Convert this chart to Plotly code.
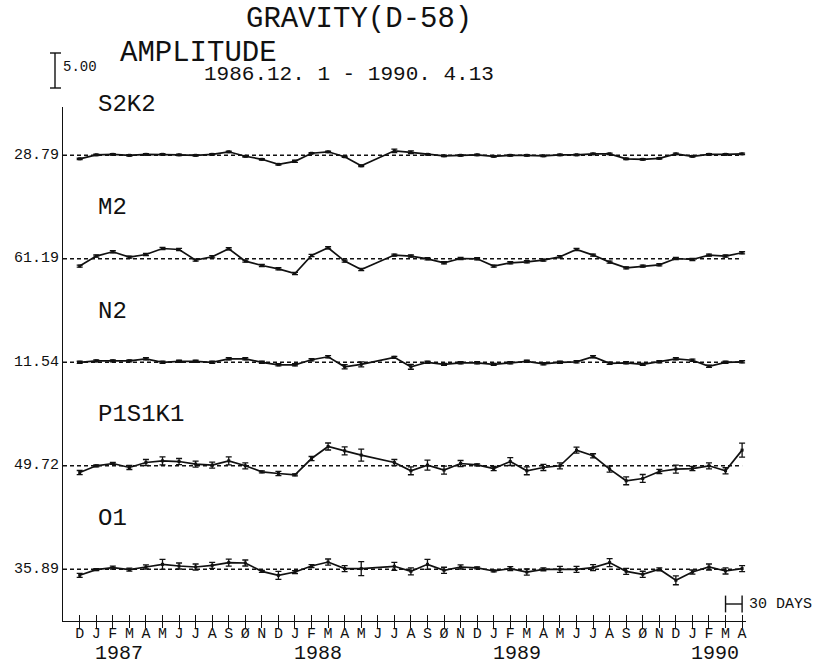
import plotly.graph_objects as go

# ---------------- data ----------------
MONTHS = [0, 1, 2, 3, 4, 5, 6, 7, 8, 9, 10, 11, 12, 13, 14, 15, 16, 17,
          19, 20, 21, 22, 23, 24, 25, 26, 27, 28, 29, 30, 31, 32, 33, 34, 35, 36, 37, 38, 39, 40]
TICK_MONTHS = list(range(41))
TICK_TEXT = ["D", "J", "F", "M", "A", "M", "J", "J", "A", "S", "Ø", "N",
             "D", "J", "F", "M", "A", "M", "J", "J", "A", "S", "Ø", "N",
             "D", "J", "F", "M", "A", "M", "J", "J", "A", "S", "Ø", "N",
             "D", "J", "F", "M", "A"]
YEAR_LABELS = ["1987", "1988", "1989", "1990"]
YEAR_MONTHS = [1, 13, 25, 37]

NAMES = ["S2K2", "M2", "N2", "P1S1K1", "O1"]
MEANS = [28.79, 61.19, 11.54, 49.72, 35.89]

S2K2 = [28.29, 28.86, 28.93, 28.79, 28.93, 28.93, 28.86, 28.79, 28.93, 29.29, 28.65, 28.22,
        27.50, 27.93, 29.08, 29.29, 28.58, 27.29, 29.43, 29.22, 28.93, 28.72, 28.79, 28.86,
        28.65, 28.79, 28.79, 28.72, 28.86, 28.86, 29.00, 29.00, 28.29, 28.22, 28.36, 29.00,
        28.65, 28.93, 28.93, 29.00]
S2K2_ERR = [0.1] * 13 + [0.15] + [0.1] * 4 + [0.25, 0.2] + [0.1] * 20

M2 = [60.15, 61.58, 62.19, 61.43, 61.80, 62.66, 62.52, 61.00, 61.48, 62.62, 60.86, 60.23,
      59.76, 59.09, 61.66, 62.76, 60.86, 59.66, 61.72, 61.58, 61.19, 60.62, 61.23, 61.19,
      60.15, 60.62, 60.76, 61.00, 61.48, 62.52, 61.72, 60.72, 59.90, 60.15, 60.33, 61.23,
      61.09, 61.72, 61.58, 62.05]
M2_ERR = [0.15] * 40

N2 = [11.54, 11.75, 11.75, 11.75, 12.04, 11.54, 11.68, 11.68, 11.54, 12.04, 12.04, 11.54,
      11.18, 11.18, 11.90, 12.33, 10.90, 11.25, 12.25, 10.90, 11.54, 11.25, 11.47, 11.47,
      11.25, 11.47, 11.68, 11.33, 11.54, 11.61, 12.33, 11.40, 11.47, 11.25, 11.61, 12.04,
      11.83, 10.97, 11.54, 11.61]
N2_ERR = [0.15] * 16 + [0.3, 0.35, 0.15, 0.35] + [0.15] * 20

P1S1K1 = [48.76, 49.72, 50.05, 49.48, 50.19, 50.43, 50.33, 49.96, 49.82, 50.43, 49.72, 48.86,
          48.62, 48.43, 50.76, 52.48, 51.86, 51.25, 50.19, 49.01, 49.82, 49.11, 50.05, 49.86,
          49.33, 50.33, 49.01, 49.48, 49.72, 51.96, 51.15, 49.25, 47.58, 47.91, 48.91, 49.25,
          49.33, 49.72, 49.01, 51.96]
P1S1K1_ERR = [0.29, 0.14, 0.14, 0.29, 0.43, 0.57, 0.43, 0.43, 0.43, 0.57, 0.43, 0.14,
              0.29, 0.14, 0.29, 0.50, 0.57, 0.86, 0.43, 0.57, 0.71, 0.57, 0.43, 0.14,
              0.29, 0.57, 0.57, 0.43, 0.43, 0.43, 0.29, 0.43, 0.57, 0.57, 0.29, 0.57,
              0.29, 0.43, 0.43, 1.00]

O1 = [35.03, 35.85, 36.13, 35.85, 36.22, 36.60, 36.36, 36.22, 36.46, 36.85, 36.79, 35.60,
      35.03, 35.50, 36.36, 36.93, 35.99, 35.99, 36.32, 35.60, 36.60, 35.75, 36.22, 36.08,
      35.65, 35.99, 35.50, 35.89, 35.89, 35.89, 36.13, 36.85, 35.60, 35.18, 35.89, 34.32,
      35.50, 36.22, 35.65, 35.99]
O1_ERR = [0.29, 0.14, 0.21, 0.21, 0.29, 0.71, 0.43, 0.43, 0.43, 0.50, 0.43, 0.14,
          0.57, 0.21, 0.21, 0.43, 0.43, 1.00, 0.57, 0.50, 0.71, 0.43, 0.29, 0.14,
          0.14, 0.29, 0.43, 0.21, 0.43, 0.43, 0.43, 0.57, 0.43, 0.43, 0.21, 0.64,
          0.29, 0.43, 0.43, 0.43]

SERIES = [S2K2, M2, N2, P1S1K1, O1]
ERRORS = [S2K2_ERR, M2_ERR, N2_ERR, P1S1K1_ERR, O1_ERR]
SCALE_AMPLITUDE = 5.00
SCALE_DAYS_MONTHS = [39, 40]

# ---------------- layout geometry (pixels) ----------------
W, H = 820, 671
PX_PER_UNIT = 7.0
AX_LEFT, AX_RIGHT, AX_BOTTOM, AX_TOP = 63, 746, 621, 107
TICK0_PX, MONTH_PX = 79.7, 16.56
ROW_BASE_PX = [155.3, 258.8, 362.3, 465.8, 569.3]
FONT = "Liberation Mono"
INK = "#111111"


def pxx(p):
    return p / W


def pxy(p):
    return 1 - p / H


def row_y(base_px):
    return (AX_BOTTOM - base_px) / PX_PER_UNIT


x_range = [(AX_LEFT - TICK0_PX) / MONTH_PX, (AX_RIGHT - TICK0_PX) / MONTH_PX]
y_range = [0, (AX_BOTTOM - AX_TOP) / PX_PER_UNIT]

fig = go.Figure()
annotations = []

for name, mean, vals, errs, base in zip(NAMES, MEANS, SERIES, ERRORS, ROW_BASE_PX):
    y0 = row_y(base)
    # dashed mean line
    fig.add_trace(go.Scatter(
        x=[x_range[0], TICK_MONTHS[-1]], y=[y0 + (mean - mean)] * 2,
        mode="lines", line=dict(color=INK, width=1.4, dash="4px,3px"),
        hoverinfo="skip", showlegend=False))
    # series
    fig.add_trace(go.Scatter(
        x=MONTHS, y=[y0 + (v - mean) for v in vals],
        mode="lines+markers",
        line=dict(color=INK, width=1.7),
        marker=dict(color=INK, size=3, symbol="square"),
        error_y=dict(type="data", array=errs, visible=True,
                     color=INK, thickness=1.3, width=3),
        cliponaxis=False, name=name, showlegend=False))
    annotations.append(dict(
        text=name, xref="paper", yref="paper", x=pxx(96), y=pxy(base - 51),
        xanchor="left", yanchor="middle", showarrow=False,
        font=dict(family=FONT, size=24, color=INK)))
    annotations.append(dict(
        text=f"{mean:.2f}", xref="paper", yref="y", x=pxx(61), y=y0,
        xanchor="right", yanchor="middle", showarrow=False,
        font=dict(family=FONT, size=15, color=INK)))

# 30 days scale bar
y_days = (AX_BOTTOM - 604) / PX_PER_UNIT
fig.add_trace(go.Scatter(
    x=SCALE_DAYS_MONTHS, y=[y_days, y_days], mode="lines+markers",
    line=dict(color=INK, width=1.4),
    marker=dict(symbol="line-ns-open", size=12, line=dict(color=INK, width=1.4)),
    cliponaxis=False, hoverinfo="skip", showlegend=False))
annotations.append(dict(
    text="30 DAYS", xref="x", yref="y", x=SCALE_DAYS_MONTHS[1], y=y_days,
    xanchor="left", yanchor="middle", xshift=5, showarrow=False,
    font=dict(family=FONT, size=15, color=INK)))

# dummy trace for the inner-tick axis
fig.add_trace(go.Scatter(x=[TICK_MONTHS[0]], y=[0], xaxis="x2", mode="markers",
                         marker=dict(size=0.1, color="rgba(0,0,0,0)"),
                         hoverinfo="skip", showlegend=False))

# year labels
for yl, ym in zip(YEAR_LABELS, YEAR_MONTHS):
    annotations.append(dict(
        text=yl, xref="x", yref="paper", x=ym, y=pxy(653),
        xanchor="left", yanchor="middle", xshift=-3, showarrow=False,
        font=dict(family=FONT, size=20, color=INK)))

# titles
annotations += [
    dict(text="GRAVITY(D-58)", xref="paper", yref="paper", x=pxx(244), y=pxy(20),
         xanchor="left", yanchor="middle", showarrow=False,
         font=dict(family=FONT, size=29, color=INK)),
    dict(text="AMPLITUDE", xref="paper", yref="paper", x=pxx(118), y=pxy(53),
         xanchor="left", yanchor="middle", showarrow=False,
         font=dict(family=FONT, size=29, color=INK)),
    dict(text="1986.12. 1 - 1990. 4.13", xref="paper", yref="paper", x=pxx(202), y=pxy(75),
         xanchor="left", yanchor="middle", showarrow=False,
         font=dict(family=FONT, size=21, color=INK)),
    dict(text=f"{SCALE_AMPLITUDE:.2f}", xref="paper", yref="paper", x=pxx(61), y=pxy(67),
         xanchor="left", yanchor="middle", showarrow=False,
         font=dict(family=FONT, size=14, color=INK)),
]

# 5.00 amplitude scale bar (length = SCALE_AMPLITUDE in data units)
bar_top = 53
bar_bot = bar_top + SCALE_AMPLITUDE * PX_PER_UNIT
shapes = [
    dict(type="line", xref="paper", yref="paper", x0=pxx(55), x1=pxx(55),
         y0=pxy(bar_top), y1=pxy(bar_bot), line=dict(color=INK, width=1.4)),
    dict(type="line", xref="paper", yref="paper", x0=pxx(50), x1=pxx(61),
         y0=pxy(bar_top), y1=pxy(bar_top), line=dict(color=INK, width=1.4)),
    dict(type="line", xref="paper", yref="paper", x0=pxx(50), x1=pxx(61),
         y0=pxy(bar_bot), y1=pxy(bar_bot), line=dict(color=INK, width=1.4)),
]

x_common = dict(range=x_range, domain=[pxx(AX_LEFT), pxx(AX_RIGHT)],
                tickmode="array", tickvals=TICK_MONTHS, showgrid=False, zeroline=False,
                tickcolor=INK, tickwidth=1.3, ticklen=6)

fig.update_layout(
    width=W, height=H, margin=dict(l=0, r=0, t=0, b=0),
    paper_bgcolor="white", plot_bgcolor="white",
    showlegend=False,
    xaxis=dict(**x_common, ticktext=TICK_TEXT, ticks="outside",
               showline=True, linecolor=INK, linewidth=1.4, anchor="y",
               ticklabelstandoff=-8,
               tickfont=dict(family=FONT, size=15, color=INK)),
    xaxis2=dict(**x_common, ticks="inside", overlaying="x", anchor="y",
                showticklabels=False, showline=False, side="bottom"),
    yaxis=dict(range=y_range, domain=[pxy(AX_BOTTOM), pxy(AX_TOP)],
               showgrid=False, zeroline=False, showticklabels=False, ticks="",
               showline=True, linecolor=INK, linewidth=1.4),
    annotations=annotations, shapes=shapes,
)

fig.write_html("out.html", config={"displayModeBar": False},
               post_script="document.body.style.margin='0';document.body.style.padding='0';")
